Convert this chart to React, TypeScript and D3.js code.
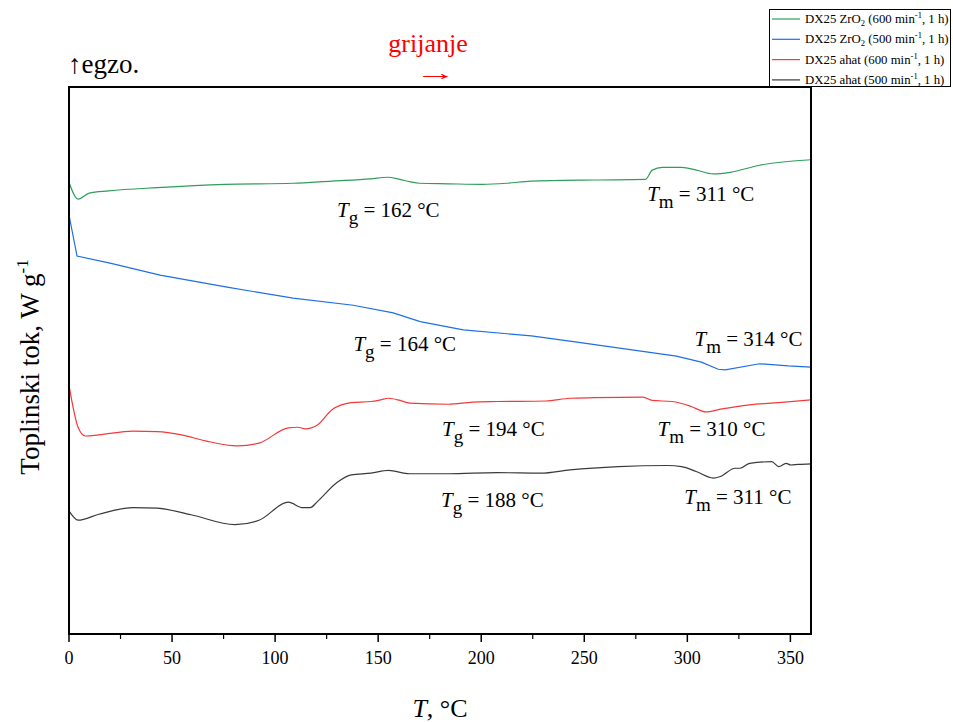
import React from "react";
import * as d3 from "d3";

const xTicks = [0, 50, 100, 150, 200, 250, 300, 350];
const xMinor = [25, 75, 125, 175, 225, 275, 325];

const greenT = [0, 4.4, 9.8, 19.2, 42.8, 75.7, 108.7, 127.6, 146.4, 154.7, 160.6, 165.3, 170, 184, 200.6, 212.4, 224.2, 254.8, 279.6, 283, 287.8, 297.3, 304.4, 312.6, 320.8, 335, 360];
const greenV = [8.26, 7.95, 8.06, 8.1, 8.16, 8.22, 8.24, 8.28, 8.32, 8.35, 8.31, 8.27, 8.24, 8.23, 8.22, 8.24, 8.28, 8.3, 8.31, 8.48, 8.53, 8.53, 8.48, 8.41, 8.44, 8.57, 8.67];

const blueT = [0, 3.9, 19.9, 44.2, 76.7, 108.7, 137.9, 157.3, 170.4, 191.3, 224.3, 245.6, 294.7, 306.8, 315, 318.4, 335, 349, 360];
const blueV = [7.66, 6.91, 6.78, 6.56, 6.34, 6.14, 6.01, 5.87, 5.71, 5.56, 5.45, 5.34, 5.08, 4.97, 4.84, 4.83, 4.94, 4.9, 4.88];

const redT = [0, 4.4, 7.9, 14.5, 31, 42.7, 54.6, 66.3, 81.7, 92.2, 106.4, 111.1, 114.6, 120.5, 127.6, 137, 146.5, 151.2, 155, 160.6, 165.3, 184.1, 195.9, 207.7, 231.3, 243.1, 254.9, 278.4, 283, 292.6, 301.9, 309, 316.1, 330.2, 344.4, 360];
const redV = [4.55, 3.78, 3.62, 3.64, 3.71, 3.7, 3.64, 3.53, 3.44, 3.49, 3.77, 3.78, 3.75, 3.82, 4.1, 4.23, 4.25, 4.28, 4.31, 4.27, 4.22, 4.2, 4.24, 4.25, 4.26, 4.31, 4.32, 4.33, 4.27, 4.25, 4.16, 4.06, 4.11, 4.19, 4.23, 4.28];

const blackT = [0, 4.4, 14.5, 31, 42.7, 59.2, 80.5, 92.2, 106.4, 113.4, 117, 120.5, 130, 137, 146.5, 155, 165.3, 184.1, 207.7, 228.9, 243.1, 266.6, 290.2, 297.2, 304.3, 312.6, 316.1, 323.2, 325.5, 330.2, 340.9, 344.4, 347.9, 350.2, 353.8, 360];
const blackV = [2.25, 2.08, 2.19, 2.31, 2.3, 2.18, 2.0, 2.08, 2.41, 2.31, 2.31, 2.42, 2.77, 2.91, 2.94, 2.99, 2.93, 2.93, 2.95, 2.94, 3.0, 3.06, 3.08, 3.06, 2.97, 2.85, 2.88, 3.03, 3.03, 3.12, 3.15, 3.06, 3.12, 3.09, 3.1, 3.11];

const seriesNames = ["600 ZrO2", "500 ZrO2", "600 ahat", "500 ahat"];
const seriesColors = ["#2e9e5b", "#1f6fe6", "#f23a3a", "#3a3a3a"];

// annotations: kind, temperature, T position, y value of baseline
const annKind = ["g", "m", "g", "m", "g", "m", "g", "m"];
const annTemp = [162, 311, 164, 314, 194, 310, 188, 311];
const annX = [130, 280.5, 138, 303.5, 181, 285.5, 180.5, 298.5];
const annY = [7.62, 7.92, 5.17, 5.26, 3.62, 3.62, 2.32, 2.38];

const FONT = "'Liberation Serif', 'Times New Roman', serif";

export default function App() {
  const W = 953, H = 722;
  const left = 69, right = 811, top = 87, bottom = 634;
  const x = d3.scaleLinear().domain([0, 360]).range([left, right]);
  const y = d3.scaleLinear().domain([0, 10]).range([bottom, top]);
  const lineSmooth = d3
    .line<[number, number]>()
    .x((d) => x(d[0]))
    .y((d) => y(d[1]))
    .curve(d3.curveMonotoneX);
  const lineStraight = d3
    .line<[number, number]>()
    .x((d) => x(d[0]))
    .y((d) => y(d[1]))
    .curve(d3.curveLinear);

  const allT = [greenT, blueT, redT, blackT];
  const allV = [greenV, blueV, redV, blackV];
  const gens = [lineSmooth, lineStraight, lineSmooth, lineSmooth];

  const legendRows = [
    { c: seriesColors[0], mat: "ZrO", sub: true, rpm: "600" },
    { c: seriesColors[1], mat: "ZrO", sub: true, rpm: "500" },
    { c: seriesColors[2], mat: "ahat", sub: false, rpm: "600" },
    { c: seriesColors[3], mat: "ahat", sub: false, rpm: "500" },
  ];

  return (
    <svg width={W} height={H} style={{ position: "absolute", left: 0, top: 0 }} fontFamily={FONT}>
      <rect x={0} y={0} width={W} height={H} fill="#fff" />
      {allT.map((ts, i) => (
        <path
          key={seriesNames[i]}
          d={gens[i](ts.map((t, j) => [t, allV[i][j]] as [number, number])) || ""}
          fill="none"
          stroke={seriesColors[i]}
          strokeWidth={1.2}
        />
      ))}
      <rect x={left} y={top} width={right - left} height={bottom - top} fill="none" stroke="#000" strokeWidth={2} />
      {xTicks.map((t) => (
        <g key={"t" + t}>
          <line x1={x(t)} x2={x(t)} y1={bottom} y2={bottom + 8} stroke="#000" strokeWidth={1.5} />
          <text x={x(t)} y={bottom + 30} textAnchor="middle" fontSize={18} fontFamily={FONT}>
            {t}
          </text>
        </g>
      ))}
      {xMinor.map((t) => (
        <line key={"m" + t} x1={x(t)} x2={x(t)} y1={bottom} y2={bottom + 5} stroke="#000" strokeWidth={1.2} />
      ))}
      <text x={440} y={717} textAnchor="middle" fontSize={26}>
        <tspan fontStyle="italic">T</tspan>, °C
      </text>
      <text transform={`translate(39,367) rotate(-90)`} textAnchor="middle" fontSize={27}>
        Toplinski tok, W g<tspan dy={-11} fontSize={17}>-1</tspan>
      </text>
      <text x={68} y={73} fontSize={27} fontFamily={FONT}>↑egzo.</text>
      <text x={428} y={52} textAnchor="middle" fontSize={26} fill="#ff0000" fontFamily={FONT}>grijanje</text>
      <text transform="translate(415,80) scale(1.9,1)" fontSize={22} fill="#ff0000">→</text>
      {annKind.map((k, i) => (
        <text key={"a" + i} x={x(annX[i])} y={y(annY[i])} fontSize={21} fontFamily={FONT}>
          <tspan fontStyle="italic">T</tspan>
          <tspan dy={7} fontSize={19}>{k}</tspan>
          <tspan dy={-7}>{` = ${annTemp[i]} °C`}</tspan>
        </text>
      ))}
      <rect x={769.5} y={9.5} width={181} height={77} fill="#fff" stroke="#000" strokeWidth={1} />
      {legendRows.map((r, i) => {
        const ly = 19 + i * 20.3;
        return (
          <g key={"l" + i}>
            <line x1={772} x2={800} y1={ly} y2={ly} stroke={r.c} strokeWidth={1.2} />
            <text x={805} y={ly + 4} fontSize={12.8}>
              {`DX25 ${r.mat}`}
              {r.sub ? (
                <>
                  <tspan dy={3} fontSize={8.5}>2</tspan>
                  <tspan dy={-3}>{` (${r.rpm} min`}</tspan>
                </>
              ) : (
                <tspan>{` (${r.rpm} min`}</tspan>
              )}
              <tspan dy={-5} fontSize={8.5}>-1</tspan>
              <tspan dy={5}>, 1 h)</tspan>
            </text>
          </g>
        );
      })}
    </svg>
  );
}
